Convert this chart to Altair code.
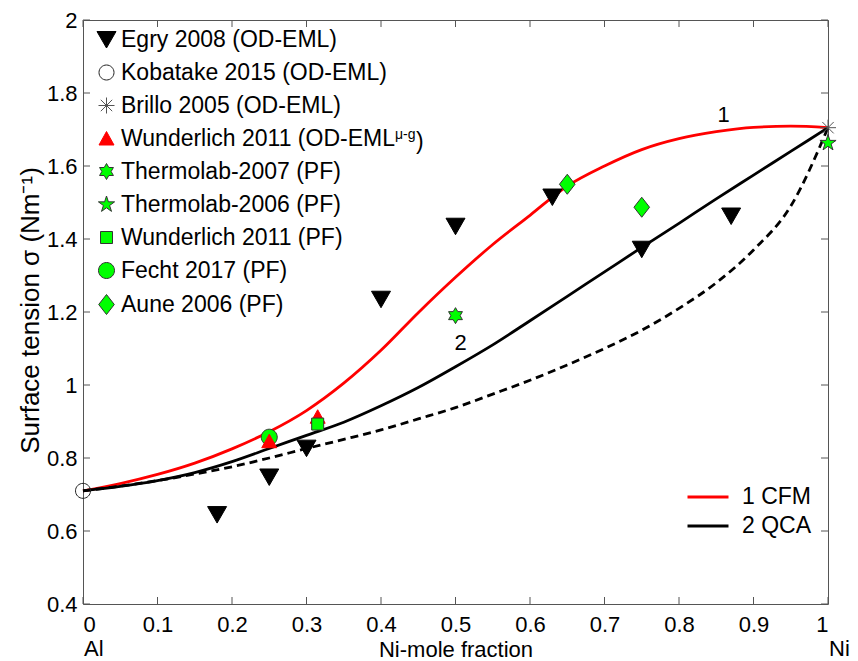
import altair as alt
import pandas as pd

FONT = "Liberation Sans"
W, H = 745, 584

# ---------------- data ----------------
series_names = [
    "Egry 2008 (OD-EML)", "Kobatake 2015 (OD-EML)", "Brillo 2005 (OD-EML)",
    "Wunderlich 2011 (OD-EML", "Thermolab-2007 (PF)", "Thermolab-2006 (PF)",
    "Wunderlich 2011 (PF)", "Fecht 2017 (PF)", "Aune 2006 (PF)",
]

egry_x = [0.18, 0.25, 0.30, 0.40, 0.50, 0.63, 0.75, 0.87]
egry_y = [0.645, 0.748, 0.827, 1.235, 1.435, 1.515, 1.372, 1.463]
kob_x, kob_y = [0.0], [0.71]
brillo_x, brillo_y = [1.0], [1.705]
wod_x, wod_y = [0.25, 0.315], [0.846, 0.913]
t07_x, t07_y = [0.5], [1.19]
t06_x, t06_y = [1.0], [1.663]
wpf_x, wpf_y = [0.315], [0.893]
fecht_x, fecht_y = [0.25], [0.857]
aune_x, aune_y = [0.65, 0.75], [1.55, 1.487]

curve_x = [0.0, 0.05, 0.1, 0.15, 0.2, 0.25, 0.3, 0.35, 0.4, 0.45, 0.5,
           0.55, 0.6, 0.65, 0.7, 0.75, 0.8, 0.85, 0.9, 0.95, 1.0]
cfm_y = [0.71, 0.73, 0.755, 0.786, 0.825, 0.872, 0.93, 1.005, 1.095, 1.198, 1.295,
         1.385, 1.465, 1.545, 1.60, 1.645, 1.675, 1.694, 1.706, 1.709, 1.705]
qca_y = [0.71, 0.722, 0.738, 0.76, 0.79, 0.826, 0.862, 0.898, 0.943, 0.993, 1.05,
         1.11, 1.176, 1.243, 1.31, 1.377, 1.443, 1.51, 1.575, 1.64, 1.705]
dash_y = [0.71, 0.723, 0.738, 0.756, 0.776, 0.80, 0.826, 0.851, 0.877, 0.907, 0.938,
          0.975, 1.013, 1.055, 1.10, 1.15, 1.21, 1.28, 1.37, 1.49, 1.705]
model_names = ["1 CFM", "2 QCA"]

x_ticks = [0.0, 0.1, 0.2, 0.3, 0.4, 0.5, 0.6, 0.7, 0.8, 0.9, 1.0]
y_ticks = [0.4, 0.6, 0.8, 1.0, 1.2, 1.4, 1.6, 1.8, 2.0]

curve_labels = ["1", "2"]
curve_label_x = [0.86, 0.507]
curve_label_y = [1.74, 1.115]

end_labels = ["Al", "Ni"]
end_label_x = [0.0, 1.0]

# ---------------- marker styles ----------------
shapes = [
    "M-0.95,-0.8L0.95,-0.8L0,0.85Z",                                   # triangle down
    "M-0.75,0A0.75,0.75 0 1,0 0.75,0A0.75,0.75 0 1,0 -0.75,0Z",        # open circle
    "M-0.8,0L0.8,0M0,-0.8L0,0.8M-0.57,-0.57L0.57,0.57M-0.57,0.57L0.57,-0.57",  # asterisk
    "M-0.75,0.65L0.75,0.65L0,-0.7Z",                                   # triangle up
    "M0,-0.8L0.231,-0.4L0.693,-0.4L0.462,0L0.693,0.4L0.231,0.4L0,0.8L-0.231,0.4L-0.693,0.4L-0.462,0L-0.693,-0.4L-0.231,-0.4Z",  # hexagram
    "M0,-0.85L0.191,-0.263L0.808,-0.263L0.309,0.1L0.5,0.688L0,0.325L-0.5,0.688L-0.309,0.1L-0.808,-0.263L-0.191,-0.263Z",  # pentagram
    "M-0.6,-0.6L0.6,-0.6L0.6,0.6L-0.6,0.6Z",                           # square
    "M-0.8,0A0.8,0.8 0 1,0 0.8,0A0.8,0.8 0 1,0 -0.8,0Z",               # circle
    "M0,-1L0.78,0L0,1L-0.78,0Z",                                       # diamond
]
fills = ["black", "transparent", "transparent", "#ff0000", "#00ff00", "#00ff00",
         "#00ff00", "#00ff00", "#00ff00"]
strokes = ["black", "#222222", "#555555", "#ff0000", "#333333", "#333333",
           "#333333", "#333333", "#333333"]

rows = []
for name, xs, ys in [
    (series_names[0], egry_x, egry_y),
    (series_names[1], kob_x, kob_y),
    (series_names[2], brillo_x, brillo_y),
    (series_names[7], fecht_x, fecht_y),
    (series_names[3], wod_x, wod_y),
    (series_names[6], wpf_x, wpf_y),
    (series_names[4], t07_x, t07_y),
    (series_names[5], t06_x, t06_y),
    (series_names[8], aune_x, aune_y),
]:
    for a, b in zip(xs, ys):
        rows.append({"series": name, "x": a, "y": b})
points_df = pd.DataFrame(rows)

lines_df = pd.DataFrame(
    [{"model": model_names[0], "x": a, "y": b} for a, b in zip(curve_x, cfm_y)]
    + [{"model": model_names[1], "x": a, "y": b} for a, b in zip(curve_x, qca_y)]
)
dash_df = pd.DataFrame({"x": curve_x, "y": dash_y})

xscale = alt.Scale(domain=[0, 1], nice=False, zero=False)
yscale = alt.Scale(domain=[0.4, 2], nice=False, zero=False)

xaxis = alt.Axis(values=x_ticks, format="~g", title="Ni-mole fraction",
                 labelPadding=10, titleX=W / 2, titleY=52, titleBaseline="alphabetic",
                 titleFontSize=22)
yaxis = alt.Axis(values=y_ticks, format="~g", title="Surface tension σ (Nm⁻¹)",
                 labelPadding=6, titleX=-45, titleY=290, titleBaseline="alphabetic",
                 titleAlign="center", titleAngle=270, titleFontSize=26)

X = alt.X("x:Q", scale=xscale, axis=xaxis)
Y = alt.Y("y:Q", scale=yscale, axis=yaxis)

pt_legend = alt.Legend(title=None, orient="none", legendX=12, legendY=8,
                       labelFontSize=23, labelFont=FONT, labelLimit=400,
                       symbolSize=400, rowPadding=9, labelOffset=3, padding=0,
                       symbolStrokeWidth=1)

lines = alt.Chart(lines_df).mark_line(strokeWidth=2.8, interpolate="monotone").encode(
    x=X, y=Y,
    color=alt.Color("model:N", scale=alt.Scale(domain=model_names, range=["#ff0000", "black"]),
                    legend=alt.Legend(title=None, orient="none", legendX=613, legendY=465,
                                      symbolType="M-2,0L2,0", symbolSize=420,
                                      symbolStrokeWidth=2.8, labelFontSize=23,
                                      labelFont=FONT, rowPadding=5, labelOffset=22,
                                      padding=0)),
)

dashed = alt.Chart(dash_df).mark_line(strokeWidth=2.8, strokeDash=[8, 5], color="black",
                                      interpolate="monotone").encode(x=X, y=Y)

pts = alt.Chart(points_df).mark_point(size=400, opacity=1, strokeWidth=1, filled=False).encode(
    x=X, y=Y,
    shape=alt.Shape("series:N", scale=alt.Scale(domain=series_names, range=shapes), legend=pt_legend),
    fill=alt.Fill("series:N", scale=alt.Scale(domain=series_names, range=fills), legend=pt_legend),
    stroke=alt.Stroke("series:N", scale=alt.Scale(domain=series_names, range=strokes), legend=pt_legend),
)

tick_color = "#555555"
xt_df = pd.DataFrame({"x": x_ticks})
yt_df = pd.DataFrame({"y": y_ticks})
bottom_ticks = alt.Chart(xt_df).mark_rule(color=tick_color, strokeWidth=1).encode(
    x="x:Q", y=alt.value(H), y2=alt.value(H - 7))
top_ticks = alt.Chart(xt_df).mark_rule(color=tick_color, strokeWidth=1).encode(
    x="x:Q", y=alt.value(0), y2=alt.value(7))
left_ticks = alt.Chart(yt_df).mark_rule(color=tick_color, strokeWidth=1).encode(
    y="y:Q", x=alt.value(0), x2=alt.value(7))
right_ticks = alt.Chart(yt_df).mark_rule(color=tick_color, strokeWidth=1).encode(
    y="y:Q", x=alt.value(W), x2=alt.value(W - 7))

cl_df = pd.DataFrame({"t": curve_labels, "x": curve_label_x, "y": curve_label_y})
curve_text = alt.Chart(cl_df).mark_text(font=FONT, fontSize=22, color="black",
                                        baseline="middle", align="center").encode(
    x="x:Q", y="y:Q", text="t:N")

el_df = pd.DataFrame({"t": end_labels, "x": end_label_x})
end_text = alt.Chart(el_df).mark_text(font=FONT, fontSize=22, color="black",
                                      baseline="alphabetic", align="left", dx=1).encode(
    x="x:Q", y=alt.value(H + 52), text="t:N")

sup_df = pd.DataFrame({"t": ["μ-g"]})
sup_text = alt.Chart(sup_df).mark_text(font=FONT, fontSize=14, color="black",
                                       baseline="alphabetic", align="left").encode(
    x=alt.value(312), y=alt.value(119), text="t:N")
par_df = pd.DataFrame({"t": [")"]})
par_text = alt.Chart(par_df).mark_text(font=FONT, fontSize=23, color="black",
                                       baseline="alphabetic", align="left").encode(
    x=alt.value(333), y=alt.value(129), text="t:N")

chart = alt.layer(
    lines, dashed, pts, bottom_ticks, top_ticks, left_ticks, right_ticks,
    curve_text, end_text, sup_text, par_text,
).resolve_scale(x="shared", y="shared").properties(
    width=W, height=H,
    autosize=alt.AutoSizeParams(type="none"),
    padding={"left": 75, "top": 12, "right": 22, "bottom": 57},
).configure_view(
    stroke="#555555", strokeWidth=1
).configure_axis(
    domain=False, ticks=False, grid=False,
    labelFont=FONT, labelFontSize=22, labelColor="black",
    titleFont=FONT, titleFontSize=22, titleFontWeight="normal", titleColor="black",
).configure_legend(
    labelColor="black"
)

chart.save("out.html", embed_options={"renderer": "svg", "actions": False})
